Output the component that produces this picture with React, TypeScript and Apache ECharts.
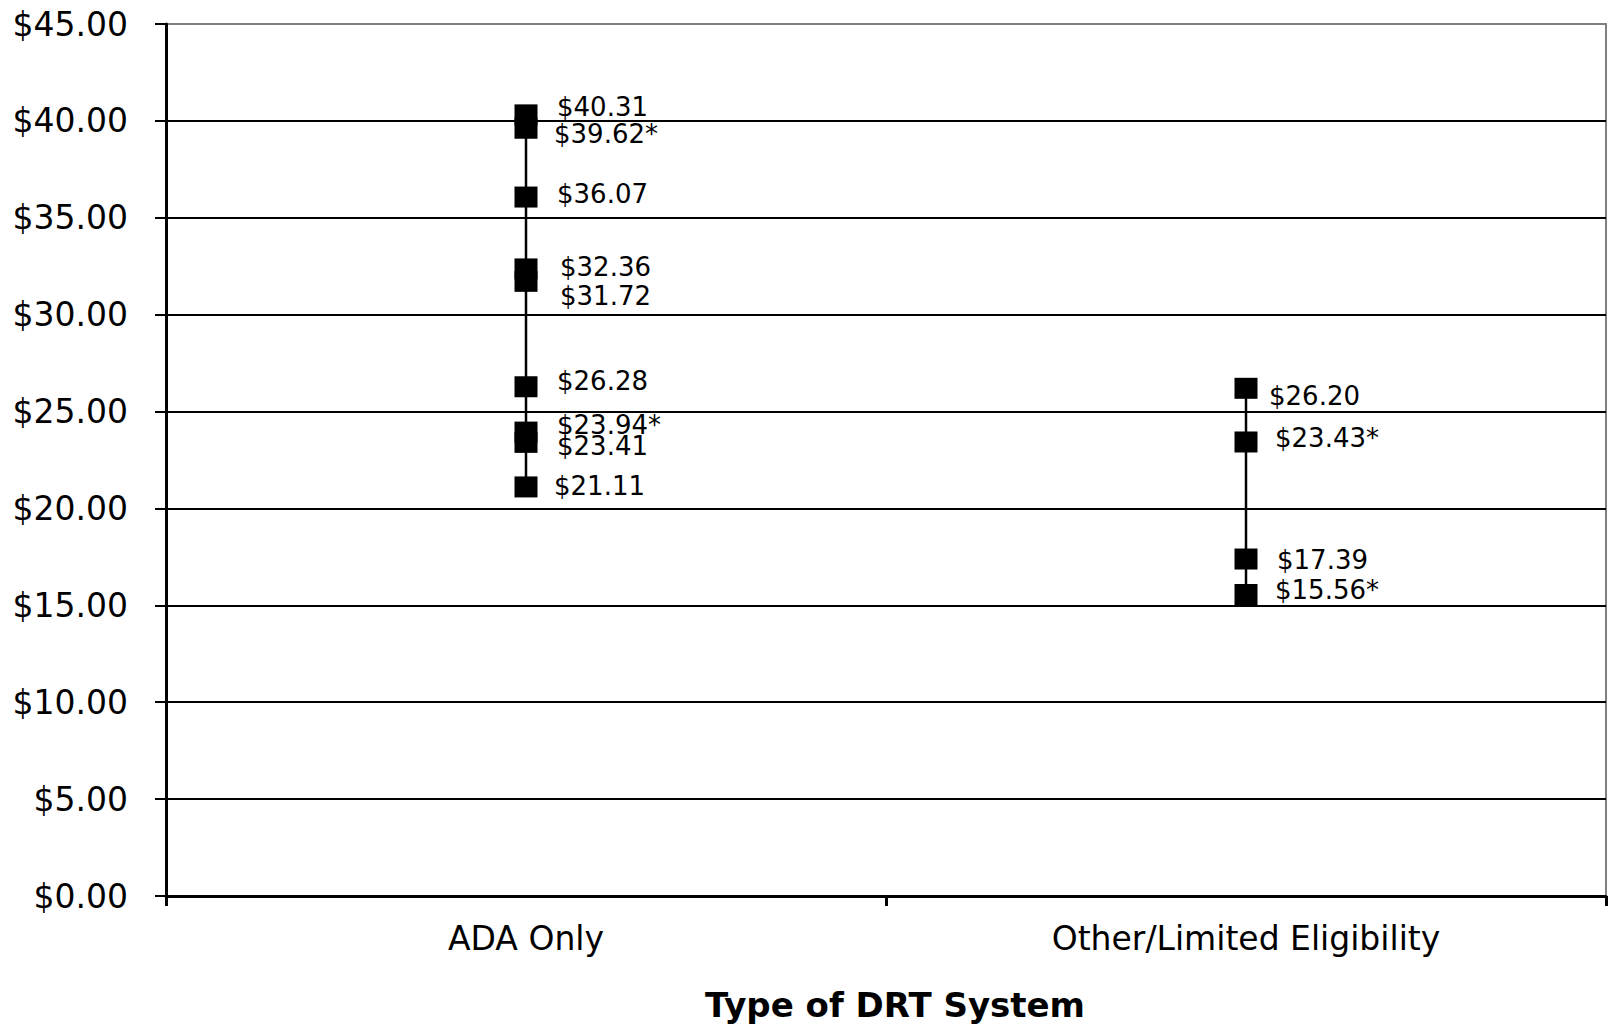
import React, { useEffect, useRef } from "react";
import * as echarts from "echarts";

// Categories on the x axis
const categories = ["ADA Only", "Other/Limited Eligibility"];

// Cost per trip for each system type
const adaCosts = [40.31, 39.62, 36.07, 32.36, 31.72, 26.28, 23.94, 23.41, 21.11];
const adaStarred = [false, true, false, false, false, false, true, false, false];

const otherCosts = [26.2, 23.43, 17.39, 15.56];
const otherStarred = [false, true, false, true];

// Y axis range
const yMin = 0;
const yMax = 45;
const yStep = 5;

// Small hand nudges [dx, dy] so crowded value labels stay readable
const adaLabelNudge = [
  [0, -8],
  [-3, 6],
  [0, -3],
  [3, -2],
  [3, 15],
  [0, -6],
  [0, -7],
  [0, 4],
  [-3, -1],
];
const otherLabelNudge = [
  [-8, 8],
  [-2, -4],
  [0, 1],
  [-2, -4],
];

const FONT = "'DejaVu Sans', 'Liberation Sans', Arial, sans-serif";
const LABEL_DX = 19.5;

function fmt(v: number) {
  return "$" + v.toFixed(2);
}

function rangeSeries(cat: string, values: number[]) {
  const hi = Math.max(...values);
  const lo = Math.min(...values);
  return {
    type: "line",
    data: [
      [cat, hi],
      [cat, lo],
    ],
    symbol: "none",
    silent: true,
    lineStyle: { color: "#000", width: 2.5, opacity: 1 },
    z: 3,
  };
}

function pointSeries(cat: string, values: number[], starred: boolean[], nudge: number[][]) {
  return {
    type: "scatter",
    symbol: "rect",
    symbolSize: [23, 21],
    itemStyle: { color: "#000", opacity: 1 },
    z: 4,
    data: values.map((v) => [cat, v]),
    label: {
      show: true,
      position: "right",
      distance: LABEL_DX,
      color: "#000",
      opacity: 1,
      fontFamily: FONT,
      fontSize: 26,
      lineHeight: 24,
      formatter: (p: any) => fmt(p.value[1]) + (starred[p.dataIndex] ? "*" : ""),
    },
    labelLayout: (p: any) => ({
      dx: nudge[p.dataIndex][0],
      dy: nudge[p.dataIndex][1],
      hideOverlap: false,
    }),
  };
}

export default function App() {
  const ref = useRef<HTMLDivElement>(null);

  useEffect(() => {
    document.body.style.margin = "0";
    if (!ref.current) return;
    const chart = echarts.init(ref.current, null, { renderer: "svg" });

    const nLines = (yMax - yMin) / yStep + 1;
    const splitColors = Array.from({ length: nLines }, (_, i) =>
      i === nLines - 1 ? "#808080" : "#000"
    );

    chart.setOption({
      animation: false,
      backgroundColor: "#fff",
      grid: {
        left: 166,
        right: 2,
        top: 24,
        bottom: 131,
        show: true,
        borderColor: "#808080",
        borderWidth: 2,
        backgroundColor: "transparent",
      },
      xAxis: {
        type: "category",
        data: categories,
        boundaryGap: true,
        axisLine: { lineStyle: { color: "#000", width: 3 } },
        axisTick: { show: true, length: 10, lineStyle: { color: "#000", width: 3 } },
        axisLabel: { color: "#000", fontFamily: FONT, fontSize: 33, margin: 26 },
        splitLine: { show: false },
      },
      yAxis: {
        type: "value",
        min: yMin,
        max: yMax,
        interval: yStep,
        axisLine: { show: true, lineStyle: { color: "#000", width: 3 } },
        axisTick: { show: true, length: 11, lineStyle: { color: "#000", width: 2 } },
        axisLabel: {
          color: "#000",
          fontFamily: FONT,
          fontSize: 33,
          margin: 38,
          formatter: (v: number) => fmt(v),
        },
        splitLine: { show: true, lineStyle: { color: splitColors, width: 2 } },
      },
      graphic: [
        {
          type: "text",
          x: 895,
          y: 1005,
          style: {
            text: "Type of DRT System",
            font: `bold 34px ${FONT}`,
            fill: "#000",
            textAlign: "center",
            textVerticalAlign: "middle",
          },
        },
      ],
      series: [
        rangeSeries(categories[0], adaCosts),
        rangeSeries(categories[1], otherCosts),
        pointSeries(categories[0], adaCosts, adaStarred, adaLabelNudge),
        pointSeries(categories[1], otherCosts, otherStarred, otherLabelNudge),
      ],
    });

    return () => chart.dispose();
  }, []);

  return <div ref={ref} style={{ width: 1608, height: 1027 }} />;
}
